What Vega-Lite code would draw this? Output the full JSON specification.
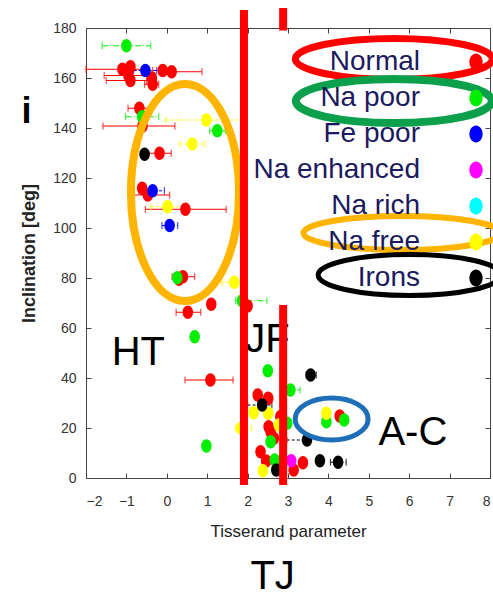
{
  "$schema": "https://vega.github.io/schema/vega-lite/v6.json",
  "width": 404,
  "height": 450,
  "autosize": {"type": "none"},
  "padding": {"left": 86, "top": 28, "right": 3, "bottom": 114},
  "background": "white",
  "config": {
    "view": {"stroke": null},
    "axis": {
      "domainColor": "#444",
      "tickColor": "#444",
      "grid": false,
      "labelFont": "Liberation Sans",
      "labelFontSize": 14,
      "labelColor": "#333",
      "titleColor": "#222"
    }
  },
  "datasets": {
    "meteors": [
      {"group": "Normal", "tisserand": -1.1, "inclination": 163.5, "low": -2.0, "high": -0.45},
      {"group": "Normal", "tisserand": -0.9, "inclination": 164.5},
      {"group": "Normal", "tisserand": -0.95, "inclination": 161.0, "low": -1.55, "high": -0.3},
      {"group": "Normal", "tisserand": -0.9, "inclination": 159.0, "low": -1.5, "high": -0.5},
      {"group": "Normal", "tisserand": -0.1, "inclination": 163.0, "low": -0.35, "high": 0.15},
      {"group": "Normal", "tisserand": 0.12, "inclination": 162.5, "low": -0.2, "high": 0.87},
      {"group": "Normal", "tisserand": -0.37, "inclination": 160.0},
      {"group": "Normal", "tisserand": -0.35, "inclination": 157.5, "low": -0.55, "high": -0.2},
      {"group": "Normal", "tisserand": -0.68, "inclination": 147.9, "low": -0.96, "high": -0.35},
      {"group": "Normal", "tisserand": -0.6, "inclination": 140.8, "low": -1.58, "high": 0.2},
      {"group": "Normal", "tisserand": -0.18, "inclination": 129.9, "low": -0.48, "high": 0.11},
      {"group": "Normal", "tisserand": -0.61, "inclination": 115.9},
      {"group": "Normal", "tisserand": -0.47, "inclination": 113.2, "low": -0.83, "high": 0.07},
      {"group": "Normal", "tisserand": 0.46, "inclination": 107.5, "low": -0.53, "high": 1.47},
      {"group": "Normal", "tisserand": 0.4, "inclination": 80.5, "low": 0.13, "high": 0.69},
      {"group": "Normal", "tisserand": 0.3, "inclination": 79.5},
      {"group": "Normal", "tisserand": 1.1, "inclination": 69.5},
      {"group": "Normal", "tisserand": 0.52, "inclination": 66.3, "low": 0.23, "high": 0.84},
      {"group": "Normal", "tisserand": 2.0, "inclination": 68.8},
      {"group": "Normal", "tisserand": 1.08, "inclination": 39.2, "low": 0.45, "high": 1.64},
      {"group": "Normal", "tisserand": 2.25, "inclination": 33.2},
      {"group": "Normal", "tisserand": 2.51, "inclination": 31.9},
      {"group": "Normal", "tisserand": 2.52, "inclination": 20.5},
      {"group": "Normal", "tisserand": 2.81, "inclination": 24.5},
      {"group": "Normal", "tisserand": 2.57, "inclination": 18.5},
      {"group": "Normal", "tisserand": 2.65, "inclination": 15.9},
      {"group": "Normal", "tisserand": 2.32, "inclination": 10.5},
      {"group": "Normal", "tisserand": 2.46, "inclination": 6.8},
      {"group": "Normal", "tisserand": 2.87, "inclination": 7.2},
      {"group": "Normal", "tisserand": 3.14, "inclination": 3.2},
      {"group": "Normal", "tisserand": 3.37, "inclination": 6.1},
      {"group": "Normal", "tisserand": 4.28, "inclination": 24.8},
      {"group": "Na poor", "tisserand": -1.0, "inclination": 172.9, "low": -1.6, "high": -0.4},
      {"group": "Na poor", "tisserand": -0.61, "inclination": 144.5, "low": -1.02, "high": -0.2},
      {"group": "Na poor", "tisserand": 1.25, "inclination": 138.9, "low": 1.06, "high": 1.45},
      {"group": "Na poor", "tisserand": 0.26, "inclination": 80.1},
      {"group": "Na poor", "tisserand": 0.69, "inclination": 56.5},
      {"group": "Na poor", "tisserand": 1.86, "inclination": 70.9, "low": 1.7, "high": 2.48},
      {"group": "Na poor", "tisserand": 2.5, "inclination": 42.9},
      {"group": "Na poor", "tisserand": 3.06, "inclination": 35.2, "low": 2.95, "high": 3.3},
      {"group": "Na poor", "tisserand": 2.98, "inclination": 21.9},
      {"group": "Na poor", "tisserand": 2.57, "inclination": 14.5},
      {"group": "Na poor", "tisserand": 0.98, "inclination": 12.8},
      {"group": "Na poor", "tisserand": 2.67, "inclination": 7.2},
      {"group": "Na poor", "tisserand": 3.95, "inclination": 22.5},
      {"group": "Na poor", "tisserand": 4.39, "inclination": 23.2},
      {"group": "Fe poor", "tisserand": -0.53, "inclination": 163.0, "low": -0.82, "high": -0.25},
      {"group": "Fe poor", "tisserand": -0.35, "inclination": 114.9, "low": -0.69, "high": -0.06},
      {"group": "Fe poor", "tisserand": 0.07, "inclination": 101.0, "low": -0.12, "high": 0.27},
      {"group": "Na enhanced", "tisserand": 3.08, "inclination": 6.9},
      {"group": "Na free", "tisserand": 0.98, "inclination": 143.2, "low": -0.03, "high": 1.9},
      {"group": "Na free", "tisserand": 0.63, "inclination": 133.6, "low": 0.32, "high": 0.93},
      {"group": "Na free", "tisserand": 0.02, "inclination": 108.5, "low": -0.4, "high": 0.42},
      {"group": "Na free", "tisserand": 1.67, "inclination": 78.3, "low": 1.36, "high": 1.9},
      {"group": "Na free", "tisserand": 2.15, "inclination": 26.1},
      {"group": "Na free", "tisserand": 2.51, "inclination": 25.9},
      {"group": "Na free", "tisserand": 1.84, "inclination": 19.9, "low": 1.7, "high": 2.1},
      {"group": "Na free", "tisserand": 2.77, "inclination": 21.2},
      {"group": "Na free", "tisserand": 2.38, "inclination": 2.9},
      {"group": "Na free", "tisserand": 3.95, "inclination": 25.9},
      {"group": "Irons", "tisserand": -0.55, "inclination": 129.5, "low": -0.65, "high": -0.45},
      {"group": "Irons", "tisserand": 3.56, "inclination": 41.2, "low": 3.45, "high": 3.7},
      {"group": "Irons", "tisserand": 2.36, "inclination": 29.2, "low": 2.0, "high": 2.6},
      {"group": "Irons", "tisserand": 3.47, "inclination": 15.2, "low": 2.97, "high": 3.47},
      {"group": "Irons", "tisserand": 2.71, "inclination": 3.2},
      {"group": "Irons", "tisserand": 3.79, "inclination": 6.9},
      {"group": "Irons", "tisserand": 4.24, "inclination": 6.3, "low": 4.05, "high": 4.44}
    ],
    "limits": [
      {"tisserand": 1.91, "top": 187.2, "bottom": -2.8},
      {"tisserand": 2.88, "top": 188.0, "bottom": 179.0},
      {"tisserand": 2.88, "top": 69.2, "bottom": -2.8}
    ],
    "regions": [
      {"label": "HT", "tisserand": -0.705, "inclination": 45.2},
      {"label": "JF", "tisserand": 2.49, "inclination": 50.5},
      {"label": "A-C", "tisserand": 6.09, "inclination": 13.2},
      {"label": "TJ", "tisserand": 2.62, "inclination": -44.4}
    ]
  },
  "resolve": {"axis": {"x": "independent", "y": "independent"}},
  "layer": [
    {
      "data": {"name": "regions"},
      "mark": {"type": "text", "font": "Liberation Sans", "fontSize": 40, "color": "#000", "align": "center", "baseline": "alphabetic"},
      "encoding": {
        "x": {"field": "tisserand", "type": "quantitative", "scale": {"domain": [-2, 8], "nice": false, "zero": false}, "axis": null},
        "y": {"field": "inclination", "type": "quantitative", "scale": {"domain": [0, 180], "nice": false, "zero": false}, "axis": null},
        "text": {"field": "label"}
      }
    },
    {
      "data": {"values": [{"label": "i", "tisserand": -3.47, "inclination": 142}]},
      "mark": {"type": "text", "font": "Liberation Sans", "fontSize": 36, "fontWeight": "bold", "color": "#000", "align": "center", "baseline": "alphabetic"},
      "encoding": {
        "x": {"field": "tisserand", "type": "quantitative", "axis": null},
        "y": {"field": "inclination", "type": "quantitative", "axis": null},
        "text": {"field": "label"}
      }
    },
    {
      "data": {"name": "meteors"},
      "transform": [{"filter": "isValid(datum.low)"}],
      "mark": {"type": "rule", "strokeWidth": 1.2},
      "encoding": {
        "x": {"field": "low", "type": "quantitative", "axis": null},
        "x2": {"field": "high"},
        "y": {"field": "inclination", "type": "quantitative", "axis": null},
        "color": {"field": "group", "type": "nominal"},
        "strokeDash": {"field": "group", "type": "nominal", "legend": null,
          "scale": {"domain": ["Normal", "Na poor", "Fe poor", "Na enhanced", "Na rich", "Na free", "Irons"],
                    "range": [[1, 0], [6, 2, 1, 2], [3, 2], [3, 2], [3, 2], [3, 2], [3, 2]]}}
      }
    },
    {
      "data": {"name": "meteors"},
      "transform": [{"filter": "isValid(datum.low)"}],
      "mark": {"type": "tick", "orient": "vertical", "size": 7, "thickness": 1.2},
      "encoding": {
        "x": {"field": "low", "type": "quantitative", "axis": null},
        "y": {"field": "inclination", "type": "quantitative", "axis": null},
        "color": {"field": "group", "type": "nominal"}
      }
    },
    {
      "data": {"name": "meteors"},
      "transform": [{"filter": "isValid(datum.high)"}],
      "mark": {"type": "tick", "orient": "vertical", "size": 7, "thickness": 1.2},
      "encoding": {
        "x": {"field": "high", "type": "quantitative", "axis": null},
        "y": {"field": "inclination", "type": "quantitative", "axis": null},
        "color": {"field": "group", "type": "nominal"}
      }
    },
    {
      "data": {"name": "meteors"},
      "mark": {"type": "point", "filled": true, "opacity": 1, "size": 182,
               "shape": "M0.78,0C0.78,0.552 0.431,1 0,1C-0.431,1 -0.78,0.552 -0.78,0C-0.78,-0.552 -0.431,-1 0,-1C0.431,-1 0.78,-0.552 0.78,0Z"},
      "encoding": {
        "x": {"field": "tisserand", "type": "quantitative",
              "axis": {"orient": "bottom", "values": [-2, -1, 0, 1, 2, 3, 4, 5, 6, 7, 8], "tickSize": -5, "labelPadding": 21,
                       "title": "Tisserand parameter", "titleFont": "Liberation Sans", "titleFontSize": 17, "titleFontWeight": "normal", "titlePadding": 15}},
        "y": {"field": "inclination", "type": "quantitative",
              "axis": {"orient": "left", "values": [0, 20, 40, 60, 80, 100, 120, 140, 160, 180], "tickSize": -5, "labelPadding": 15,
                       "title": "Inclination [deg]", "titleFont": "Liberation Sans", "titleFontSize": 18, "titleFontWeight": "bold", "titlePadding": 14}},
        "color": {"field": "group", "type": "nominal",
          "scale": {"domain": ["Normal", "Na poor", "Fe poor", "Na enhanced", "Na rich", "Na free", "Irons"],
                    "range": ["#ff0000", "#00ee00", "#0000ff", "#ff00ff", "#00ffff", "#ffff00", "#000000"]},
          "legend": {"title": null, "orient": "none", "legendX": 376, "legendY": 20,
                     "labelFont": "Liberation Sans", "labelFontSize": 28, "labelColor": "#1c1a5e",
                     "labelAlign": "right", "labelOffset": -70, "labelLimit": 400, "rowPadding": 8,
                     "symbolSize": 289, "symbolStrokeWidth": 0, "symbolOpacity": 1,
                     "symbolType": "M0.78,0C0.78,0.552 0.431,1 0,1C-0.431,1 -0.78,0.552 -0.78,0C-0.78,-0.552 -0.431,-1 0,-1C0.431,-1 0.78,-0.552 0.78,0Z",
                     "encode": {"symbols": {"update": {"opacity": {"value": 1}, "fillOpacity": {"value": 1}}}}}}
      }
    },
    {
      "data": {"values": [{"tisserand": 0.45, "inclination": 114.2}]},
      "mark": {"type": "point", "filled": false, "size": 47089, "stroke": "#ffb400", "strokeWidth": 8, "opacity": 1,
               "shape": "M0.498,0C0.498,0.552 0.275,1 0,1C-0.275,1 -0.498,0.552 -0.498,0C-0.498,-0.552 -0.275,-1 0,-1C0.275,-1 0.498,-0.552 0.498,0Z"},
      "encoding": {
        "x": {"field": "tisserand", "type": "quantitative", "axis": null},
        "y": {"field": "inclination", "type": "quantitative", "axis": null}
      }
    },
    {
      "data": {"values": [{"tisserand": 4.08, "inclination": 23.6}]},
      "mark": {"type": "point", "filled": false, "size": 5329, "stroke": "#1f6fb8", "strokeWidth": 5, "opacity": 1,
               "shape": "M1,0C1,0.318 0.552,0.575 0,0.575C-0.552,0.575 -1,0.318 -1,0C-1,-0.318 -0.552,-0.575 0,-0.575C0.552,-0.575 1,-0.318 1,0Z"},
      "encoding": {
        "x": {"field": "tisserand", "type": "quantitative", "axis": null},
        "y": {"field": "inclination", "type": "quantitative", "axis": null}
      }
    },
    {
      "data": {"values": [{"tisserand": 5.62, "inclination": 167.6}]},
      "mark": {"type": "point", "filled": false, "size": 38809, "stroke": "#ff0000", "strokeWidth": 7, "opacity": 1,
               "shape": "M1,0C1,0.115 0.552,0.208 0,0.208C-0.552,0.208 -1,0.115 -1,0C-1,-0.115 -0.552,-0.208 0,-0.208C0.552,-0.208 1,-0.115 1,0Z"},
      "encoding": {
        "x": {"field": "tisserand", "type": "quantitative", "axis": null},
        "y": {"field": "inclination", "type": "quantitative", "axis": null}
      }
    },
    {
      "data": {"values": [{"tisserand": 5.62, "inclination": 150.8}]},
      "mark": {"type": "point", "filled": false, "size": 38416, "stroke": "#0ca04c", "strokeWidth": 8, "opacity": 1,
               "shape": "M1,0C1,0.124 0.552,0.224 0,0.224C-0.552,0.224 -1,0.124 -1,0C-1,-0.124 -0.552,-0.224 0,-0.224C0.552,-0.224 1,-0.124 1,0Z"},
      "encoding": {
        "x": {"field": "tisserand", "type": "quantitative", "axis": null},
        "y": {"field": "inclination", "type": "quantitative", "axis": null}
      }
    },
    {
      "data": {"values": [{"tisserand": 5.82, "inclination": 98.0}]},
      "mark": {"type": "point", "filled": false, "size": 38809, "stroke": "#ffb400", "strokeWidth": 6, "opacity": 1,
               "shape": "M1,0C1,0.0954 0.552,0.173 0,0.173C-0.552,0.173 -1,0.0954 -1,0C-1,-0.0954 -0.552,-0.173 0,-0.173C0.552,-0.173 1,-0.0954 1,0Z"},
      "encoding": {
        "x": {"field": "tisserand", "type": "quantitative", "axis": null},
        "y": {"field": "inclination", "type": "quantitative", "axis": null}
      }
    },
    {
      "data": {"values": [{"tisserand": 6.01, "inclination": 81.2}]},
      "mark": {"type": "point", "filled": false, "size": 33489, "stroke": "#000000", "strokeWidth": 5, "opacity": 1,
               "shape": "M1,0C1,0.124 0.552,0.224 0,0.224C-0.552,0.224 -1,0.124 -1,0C-1,-0.124 -0.552,-0.224 0,-0.224C0.552,-0.224 1,-0.124 1,0Z"},
      "encoding": {
        "x": {"field": "tisserand", "type": "quantitative", "axis": null},
        "y": {"field": "inclination", "type": "quantitative", "axis": null}
      }
    },
    {
      "data": {"name": "limits"},
      "mark": {"type": "rule", "color": "#ff0000", "strokeWidth": 8},
      "encoding": {
        "x": {"field": "tisserand", "type": "quantitative",
              "axis": {"orient": "top", "values": [-2, -1, 0, 1, 2, 3, 4, 5, 6, 7, 8], "tickSize": -5, "labels": false, "title": null}},
        "y": {"field": "top", "type": "quantitative",
              "axis": {"orient": "right", "values": [0, 20, 40, 60, 80, 100, 120, 140, 160, 180], "tickSize": -5, "labels": false, "title": null}},
        "y2": {"field": "bottom"}
      }
    }
  ]
}
